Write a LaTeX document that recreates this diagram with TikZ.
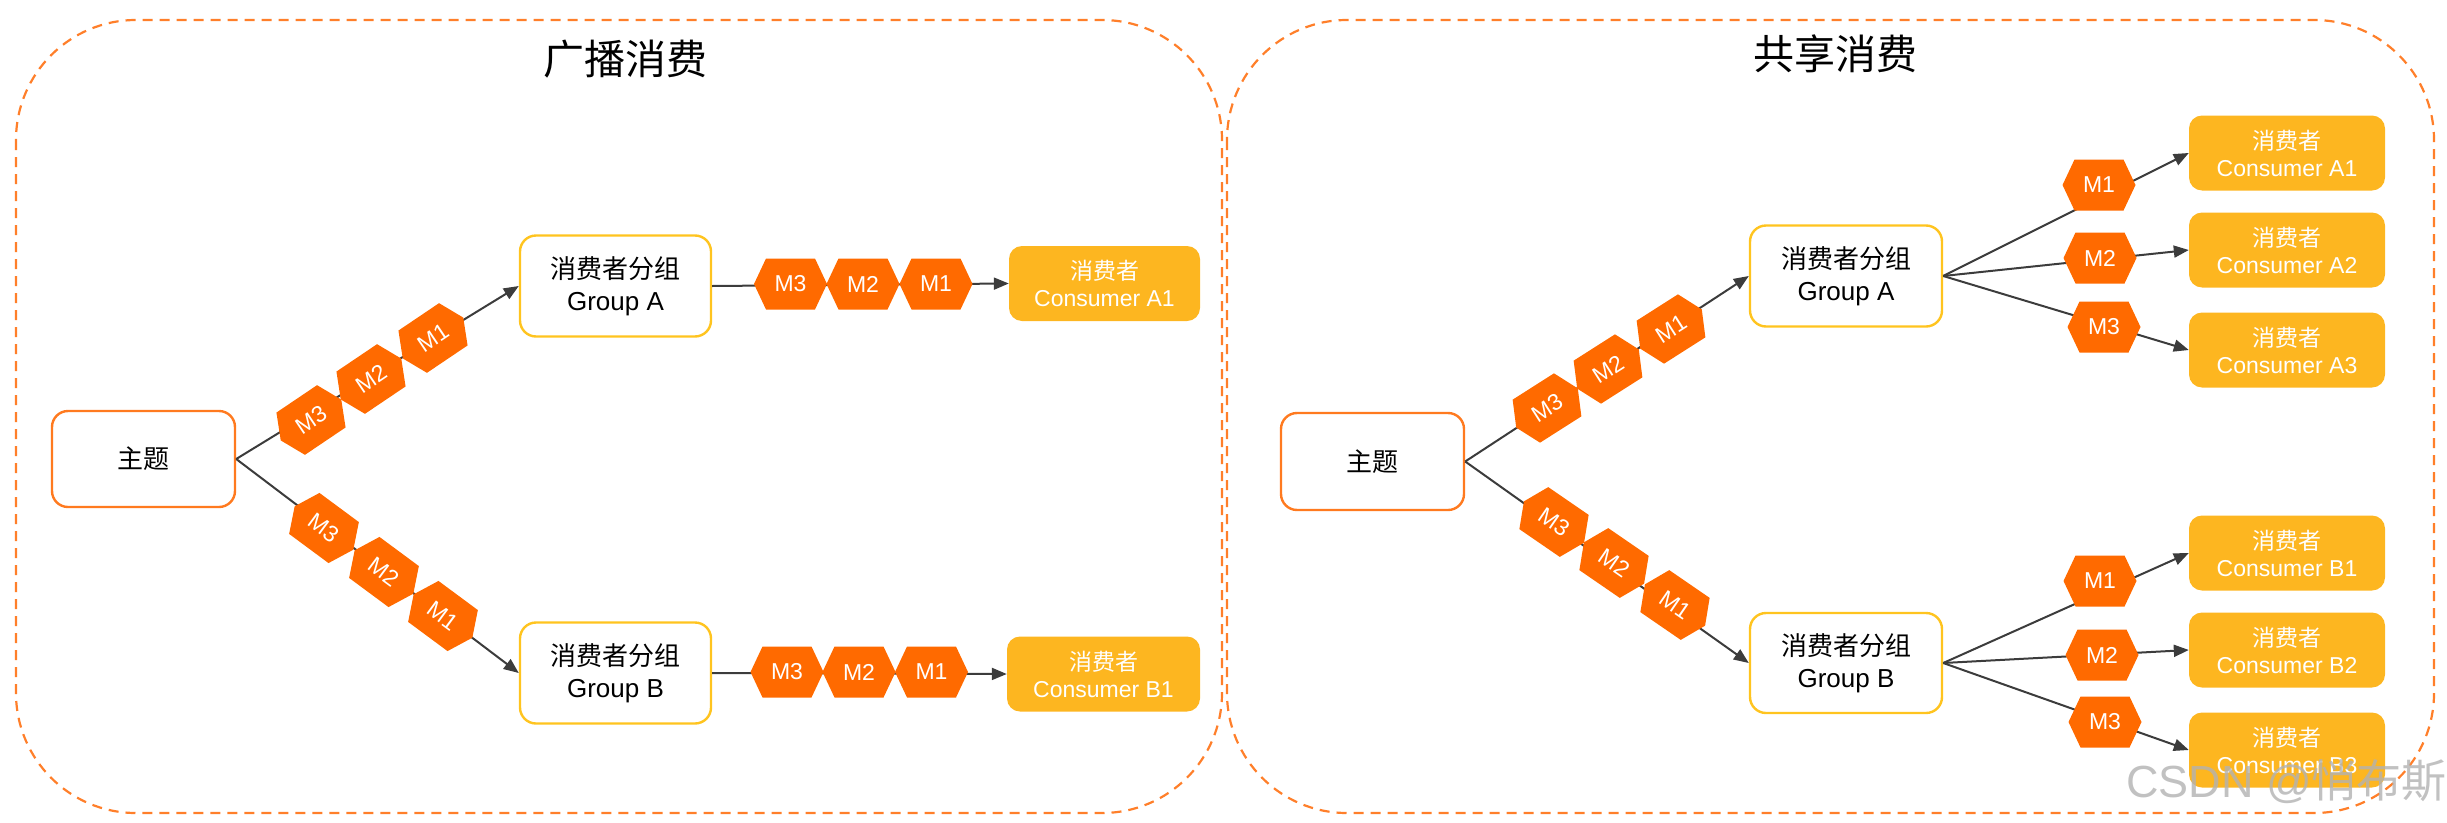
\documentclass[tikz,border=0pt]{standalone}
\usepackage{fontspec}
\setmainfont{Liberation Sans}
\newfontfamily\cjk{Noto Sans CJK SC}
\usetikzlibrary{arrows.meta}
\definecolor{panelc}{HTML}{FF7F2A}
\definecolor{hexc}{HTML}{FF6A00}
\definecolor{consc}{HTML}{FDB620}
\definecolor{grpc}{HTML}{FFC41F}
\definecolor{topc}{HTML}{FF7A1F}
\definecolor{linec}{HTML}{3C3C3C}
\newcommand\hexm[5]{%
  \fill[hexc,shift={(#1,#2)},rotate=#3] (-36.5,0) -- (-24.5,-25.5) -- (24.5,-25.5) -- (36.5,0) -- (24.5,25.5) -- (-24.5,25.5) -- cycle;
  \node[hextxt,rotate=#3] (#4) at (#1,#2) {#5};
}
\begin{document}
\begin{tikzpicture}[x=1pt,y=-1pt,
  panelbox/.style={draw=panelc,line width=2.2pt,dash pattern=on 10pt off 7pt,rounded corners=120pt},
  topicbox/.style={draw=topc,line width=2.4pt,rounded corners=16pt,fill=white,minimum width=183pt,minimum height=96pt,inner sep=0pt,font=\cjk\fontsize{26}{32}\selectfont},
  groupbox/.style={draw=grpc,line width=2.4pt,rounded corners=16pt,fill=white,minimum width=191pt,minimum height=101pt,inner sep=0pt,align=center,font=\fontsize{26}{32}\selectfont},
  consbox/.style={fill=consc,rounded corners=13pt,minimum width=193pt,minimum height=75pt,inner sep=0pt,align=center,text=white,font=\fontsize{23}{27}\selectfont},
  conn/.style={draw=linec,line width=2pt,-{Triangle[length=15pt,width=12pt]}},
  hextxt/.style={text=white,inner sep=0pt,font=\fontsize{23}{23}\selectfont},
  titletxt/.style={font=\cjk\fontsize{41}{41}\selectfont}]
\useasboundingbox (0,0) rectangle (2447,822);
% panels
\draw[panelbox] (16,20) rectangle (1222,813);
\draw[panelbox] (1227,20) rectangle (2434,813);
\node[titletxt] (t1) at (625,59) {广播消费};
\node[titletxt] (t2) at (1835,54) {共享消费};
% left panel boxes
\node[topicbox] (tL) at (143.5,459) {主题};
\node[groupbox] (gAL) at (615.5,286) {{\cjk 消费者分组}\\Group A};
\node[groupbox] (gBL) at (615.5,673) {{\cjk 消费者分组}\\Group B};
\node[consbox,minimum width=191pt] (cA1L) at (1104.5,283.5) {{\cjk 消费者}\\Consumer A1};
\node[consbox] (cB1L) at (1103.5,674) {{\cjk 消费者}\\Consumer B1};
% right panel boxes
\node[topicbox,minimum height=97pt] (tR) at (1372.5,461.5) {主题};
\node[groupbox,minimum width=192pt] (gAR) at (1846,276) {{\cjk 消费者分组}\\Group A};
\node[groupbox,minimum width=192pt,minimum height=100pt] (gBR) at (1846,663) {{\cjk 消费者分组}\\Group B};
\node[consbox,minimum width=196pt] (cA1R) at (2287,153) {{\cjk 消费者}\\Consumer A1};
\node[consbox,minimum width=196pt] (cA2R) at (2287,250) {{\cjk 消费者}\\Consumer A2};
\node[consbox,minimum width=196pt] (cA3R) at (2287,350) {{\cjk 消费者}\\Consumer A3};
\node[consbox,minimum width=196pt] (cB1R) at (2287,553) {{\cjk 消费者}\\Consumer B1};
\node[consbox,minimum width=196pt] (cB2R) at (2287,650) {{\cjk 消费者}\\Consumer B2};
\node[consbox,minimum width=196pt] (cB3R) at (2287,750) {{\cjk 消费者}\\Consumer B3};
% connectors left
\draw[conn] (tL.east) -- (gAL.west);
\draw[conn] (tL.east) -- (gBL.west);
\draw[conn] (gAL.east) -- (cA1L.west);
\draw[conn] (gBL.east) -- (cB1L.west);
% connectors right
\draw[conn] (tR.east) -- (gAR.west);
\draw[conn] (tR.east) -- (gBR.west);
\draw[conn] (gAR.east) -- (cA1R.west);
\draw[conn] (gAR.east) -- (cA2R.west);
\draw[conn] (gAR.east) -- (cA3R.west);
\draw[conn] (gBR.east) -- (cB1R.west);
\draw[conn] (gBR.east) -- (cB2R.west);
\draw[conn] (gBR.east) -- (cB3R.west);
% messages left
\hexm{311}{420}{34}{lu3}{M3}
\hexm{371}{379}{34}{lu2}{M2}
\hexm{433}{338}{34}{lu1}{M1}
\hexm{324}{528}{-36.5}{ld3}{M3}
\hexm{384}{572}{-36.5}{ld2}{M2}
\hexm{443}{616}{-36.5}{ld1}{M1}
\hexm{790.5}{284}{0}{la3}{M3}
\hexm{863}{284}{0}{la2}{M2}
\hexm{936}{284}{0}{la1}{M1}
\hexm{787}{672}{0}{lb3}{M3}
\hexm{859}{672}{0}{lb2}{M2}
\hexm{931.5}{672}{0}{lb1}{M1}
% messages right
\hexm{1547}{408}{32.5}{ru3}{M3}
\hexm{1608}{369}{32.5}{ru2}{M2}
\hexm{1671}{329}{32.5}{ru1}{M1}
\hexm{1554}{522}{-34.5}{rd3}{M3}
\hexm{1614}{563}{-34.5}{rd2}{M2}
\hexm{1675}{605}{-34.5}{rd1}{M1}
\hexm{2099}{185}{0}{ra1}{M1}
\hexm{2100}{258}{0}{ra2}{M2}
\hexm{2104}{327}{0}{ra3}{M3}
\hexm{2100}{581}{0}{rb1}{M1}
\hexm{2102}{655}{0}{rb2}{M2}
\hexm{2105}{722}{0}{rb3}{M3}
% watermark
\node[anchor=west,text=black!30,text opacity=0.8,inner sep=0pt,font=\fontsize{45}{45}\selectfont] (wm) at (2126,782) {CSDN @{\cjk 悄布斯}};
\end{tikzpicture}
\end{document}
